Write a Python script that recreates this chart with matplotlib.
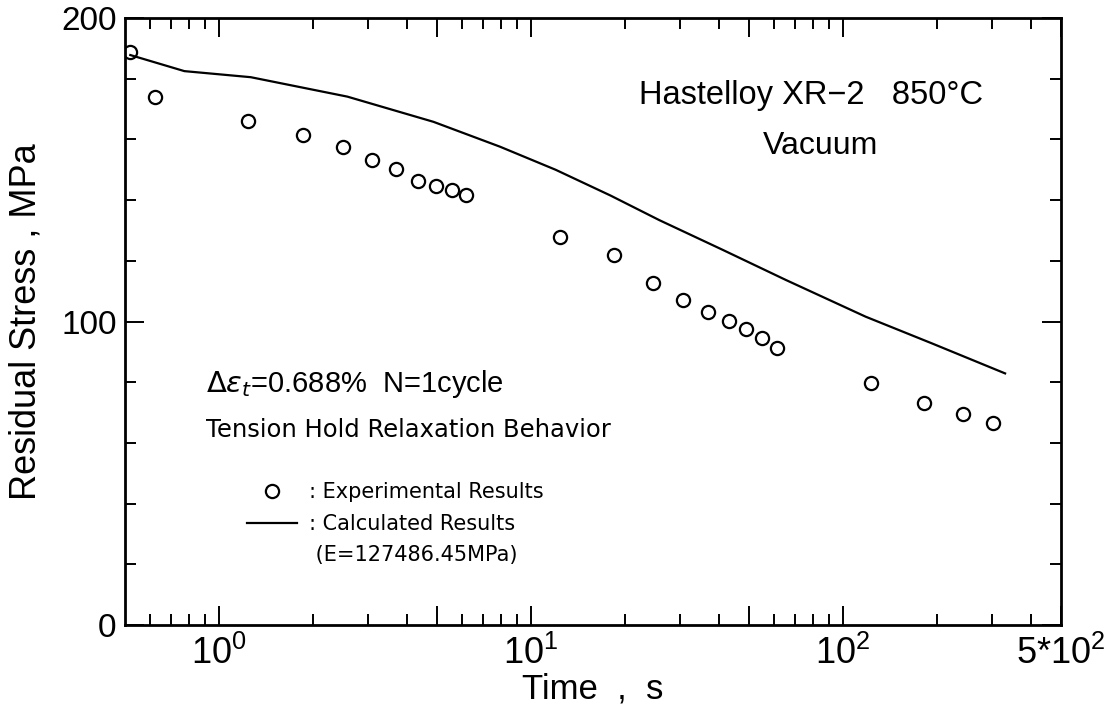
import matplotlib
matplotlib.use("Agg")
import matplotlib.pyplot as plt
from matplotlib.ticker import FixedLocator, FixedFormatter, NullFormatter
from matplotlib.lines import Line2D

# experimental residual stress (open circles)
exp_time = [0.52, 0.625, 1.24, 1.86, 2.49, 3.1, 3.7, 4.35, 4.96, 5.58, 6.2,
            12.4, 18.4, 24.6, 30.7, 36.9, 43.2, 48.9, 55.2, 61.4,
            122.6, 182.4, 243.5, 303.7]
exp_stress = [188.7, 174.0, 166.2, 161.4, 157.4, 153.3, 150.2, 146.4, 144.6, 143.3, 141.7,
              127.8, 121.9, 112.8, 107.1, 103.2, 100.2, 97.4, 94.5, 91.4,
              79.8, 73.3, 69.4, 66.5]

# calculated curve
calc_time = [0.52, 0.775, 1.265, 2.58, 4.87, 7.96, 12.0, 18.0, 25.8, 41.2, 65.6, 118.2, 192.8, 331.0]
calc_stress = [187.8, 182.5, 180.5, 174.1, 165.8, 157.6, 150.0, 141.5, 133.4, 123.6, 113.7, 101.6, 92.8, 82.9]

x_major = [1, 5, 10, 50, 100, 500]
x_major_labels = [r"$\mathregular{10^{0}}$", "", r"$\mathregular{10^{1}}$", "",
                  r"$\mathregular{10^{2}}$", r"$\mathregular{5{*}10^{2}}$"]
x_minor = [0.6, 0.7, 0.8, 0.9, 2, 3, 4, 6, 7, 8, 9, 20, 30, 40, 60, 70, 80, 90, 200, 300, 400]
y_major = [0, 100, 200]
y_major_labels = ["0", "100", "200"]
y_minor = [20, 40, 60, 80, 120, 140, 160, 180]

plt.rcParams["font.family"] = ["Liberation Sans", "DejaVu Sans"]
plt.rcParams["mathtext.fontset"] = "dejavusans"

fig = plt.figure(figsize=(11.18, 7.12), dpi=100)
ax = fig.add_axes([0.1118, 0.1222, 0.8372, 0.8525])
ax.set_xscale("log")
ax.set_xlim(0.5, 500)
ax.set_ylim(0, 200)

ax.plot(calc_time, calc_stress, color="black", lw=1.6)
ax.plot(exp_time, exp_stress, "o", mfc="none", mec="black", ms=9.5, mew=1.6)

ax.xaxis.set_major_locator(FixedLocator(x_major))
ax.xaxis.set_major_formatter(FixedFormatter(x_major_labels))
ax.xaxis.set_minor_locator(FixedLocator(x_minor))
ax.xaxis.set_minor_formatter(NullFormatter())
ax.yaxis.set_major_locator(FixedLocator(y_major))
ax.yaxis.set_major_formatter(FixedFormatter(y_major_labels))
ax.yaxis.set_minor_locator(FixedLocator(y_minor))
ax.yaxis.set_minor_formatter(NullFormatter())

ax.tick_params(which="both", direction="in", top=True, right=True, width=1.4)
ax.tick_params(which="major", length=14)
ax.tick_params(which="minor", length=8)
ax.tick_params(axis="x", which="major", labelsize=26, pad=8)
ax.tick_params(axis="y", which="major", labelsize=24, pad=6)
for sp in ax.spines.values():
    sp.set_linewidth(2)

ax.set_xlabel("Time  ,  s", fontsize=25, labelpad=0)
ax.set_ylabel("Residual Stress , MPa", fontsize=26, labelpad=13)

ax.text(282, 171.7, "Hastelloy XR\u22122   850\u00b0C", fontsize=23.5, ha="right", va="baseline")
ax.text(85, 155.2, "Vacuum", fontsize=23, ha="center", va="baseline")
ax.text(0.909, 76.8, r"$\Delta\epsilon_{t}$=0.688%  N=1cycle", fontsize=21, ha="left", va="baseline")
ax.text(0.909, 61.9, "Tension Hold Relaxation Behavior", fontsize=17.5, ha="left", va="baseline",
        family="DejaVu Sans")

handles = [Line2D([], [], ls="none", marker="o", mfc="none", mec="black", ms=9.5, mew=1.6),
           Line2D([], [], color="black", lw=1.6),
           Line2D([], [], ls="none")]
labels = [": Experimental Results", ": Calculated Results", " (E=127486.45MPa)"]
ax.legend(handles, labels, loc="upper left", bbox_to_anchor=(0.13, 0.235), frameon=False,
          prop={"family": "DejaVu Sans", "size": 15}, handlelength=2.4, handletextpad=0.6,
          labelspacing=0.55, borderpad=0, borderaxespad=0)

fig.savefig("out.png", dpi=100)
